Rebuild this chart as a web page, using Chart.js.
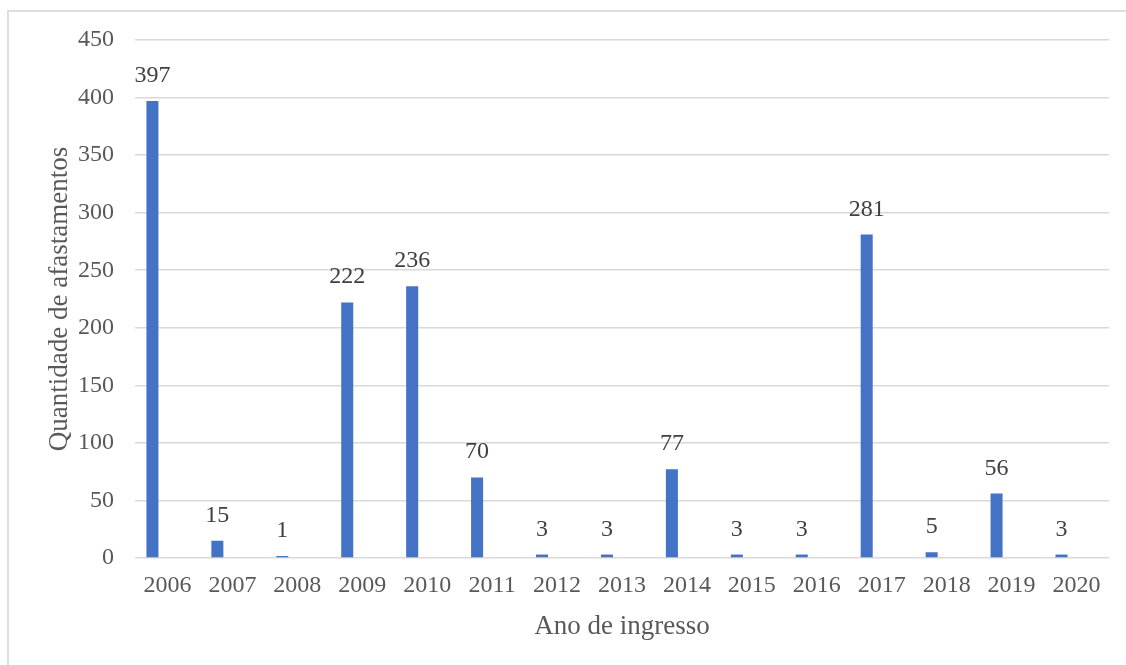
<!DOCTYPE html>
<html>
<head>
<meta charset="utf-8">
<script src="https://cdn.jsdelivr.net/npm/chart.js@4/dist/chart.umd.min.js"></script>
<style>
  html, body { margin: 0; padding: 0; background: #ffffff; overflow: hidden; }
  #frame {
    position: absolute; left: 7px; top: 10px; width: 1200px; height: 700px;
    border-left: 2px solid #dedede; border-top: 2px solid #dedede;
  }
  #chart { position: absolute; left: 0; top: 0; }
</style>
</head>
<body>
<div id="frame"></div>
<canvas id="chart" width="1126" height="665"></canvas>
<script>
// Afastamentos por ano de ingresso
const anos = ['2006', '2007', '2008', '2009', '2010', '2011', '2012', '2013',
              '2014', '2015', '2016', '2017', '2018', '2019', '2020'];
const afastamentos = [397, 15, 1, 222, 236, 70, 3, 3, 77, 3, 3, 281, 5, 56, 3];
// second series of the workbook has no entries; it still takes its slot in each group
const serieVazia = anos.map(() => null);

const yMin = 0, yMax = 450, yStep = 50;

const SERIF = '"Liberation Serif", "Times New Roman", serif';
const tickFont = { family: SERIF, size: 24 };
const titleFont = { family: SERIF, size: 27 };

// value labels above each bar
const valueLabels = {
  id: 'valueLabels',
  afterDatasetsDraw(chart) {
    const ctx = chart.ctx;
    const meta = chart.getDatasetMeta(0);
    const data = chart.data.datasets[0].data;
    ctx.save();
    ctx.font = '24px ' + SERIF;
    ctx.fillStyle = '#404040';
    ctx.textAlign = 'center';
    ctx.textBaseline = 'alphabetic';
    meta.data.forEach((bar, i) => {
      if (data[i] == null) return;
      ctx.fillText(String(data[i]), bar.x, bar.y - 19);
    });
    ctx.restore();
  }
};

new Chart(document.getElementById('chart'), {
  type: 'bar',
  data: {
    labels: anos,
    datasets: [
      {
        label: 'Quantidade de afastamentos',
        data: afastamentos,
        backgroundColor: '#4472C4',
        borderWidth: 0,
        minBarLength: 2,
        categoryPercentage: 0.926,
        barPercentage: 0.4
      },
      {
        label: '',
        data: serieVazia,
        backgroundColor: '#ED7D31',
        borderWidth: 0,
        categoryPercentage: 0.926,
        barPercentage: 0.4
      }
    ]
  },
  options: {
    responsive: false,
    animation: false,
    layout: { padding: { left: 0, right: 17, top: 40, bottom: 0 } },
    plugins: {
      legend: { display: false },
      tooltip: { enabled: false }
    },
    scales: {
      x: {
        grid: { display: false },
        border: { display: false },
        ticks: { font: tickFont, color: '#595959', padding: 5, maxRotation: 0, autoSkip: false },
        title: {
          display: true, text: 'Ano de ingresso', color: '#595959', font: titleFont,
          padding: { top: 0, bottom: 22 }
        },
        afterFit(scale) { scale.height = 107; }
      },
      y: {
        min: yMin, max: yMax,
        grid: { color: '#d9d9d9', lineWidth: 1.5, drawTicks: false },
        border: { display: false },
        ticks: { stepSize: yStep, font: tickFont, color: '#595959', padding: 21 },
        title: {
          display: true, text: 'Quantidade de afastamentos', color: '#595959', font: titleFont,
          padding: { top: 44, bottom: 0 }
        },
        afterFit(scale) { scale.width = 135; }
      }
    }
  },
  plugins: [valueLabels]
});
</script>
</body>
</html>
